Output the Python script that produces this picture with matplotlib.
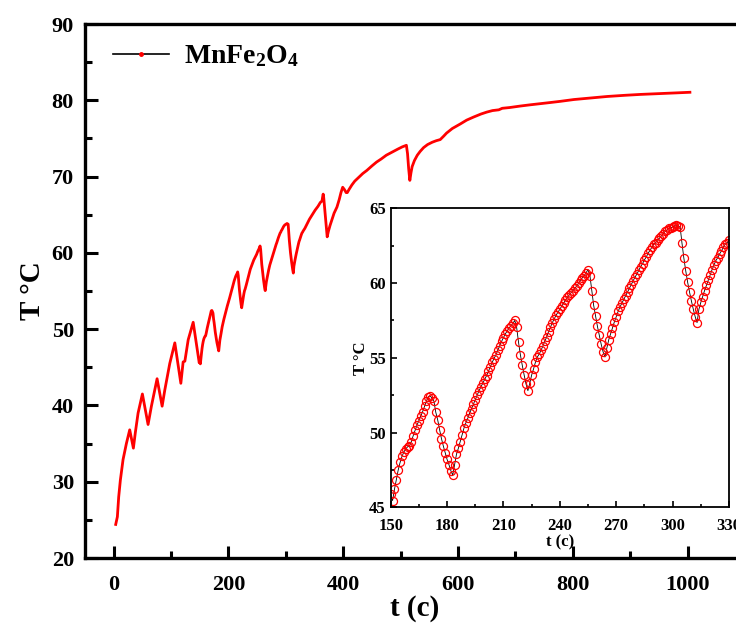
import numpy as np
import matplotlib
matplotlib.use("Agg")
import matplotlib.pyplot as plt
from matplotlib.lines import Line2D
from matplotlib.ticker import MultipleLocator

plt.rcParams['font.family'] = ['Liberation Serif', 'DejaVu Serif']
plt.rcParams['font.weight'] = 'bold'
plt.rcParams['mathtext.fontset'] = 'custom'
plt.rcParams['mathtext.rm'] = 'Liberation Serif:bold'
plt.rcParams['mathtext.it'] = 'Liberation Serif:bold'
plt.rcParams['mathtext.bf'] = 'Liberation Serif:bold'

# heating curve before the zoomed window (s, degC)
t_early = [3.5, 6.4, 8.7, 11.6, 16.3, 22.1, 27.9, 34.3, 37.8, 42.5, 50.0, 59.9,
           65.7, 75.6, 84.4, 89.0, 97.7, 106.5, 117.0, 121.0, 124.0, 129.8,
           138.5, 149.0]
T_early = [24.4, 25.4, 28.0, 30.2, 32.9, 35.0, 36.8, 34.4, 36.5, 39.0, 41.5, 37.5,
           39.9, 43.5, 39.9, 42.0, 45.5, 48.2, 42.9, 45.7, 45.8, 48.6,
           50.9, 45.6]

# zoomed window, one sample per second from 150 s to 330 s
t_zoom = np.arange(150, 331)
T_zoom = [45.9, 45.45, 46.2, 46.85, 47.5, 48.0, 48.4, 48.7, 48.9, 49.05,
          49.1, 49.4, 49.8, 50.15, 50.5, 50.8, 51.1, 51.4, 51.75, 52.1,
          52.4, 52.45, 52.3, 52.1, 51.35, 50.85, 50.2, 49.6, 49.1, 48.65,
          48.2, 47.85, 47.45, 47.15, 47.85, 48.55, 48.95, 49.4, 49.85, 50.3,
          50.65, 50.95, 51.3, 51.6, 51.9, 52.2, 52.5, 52.8, 53.05, 53.3,
          53.55, 53.8, 54.1, 54.4, 54.7, 54.95, 55.2, 55.5, 55.8, 56.1,
          56.35, 56.6, 56.8, 57.0, 57.15, 57.3, 57.5, 57.05, 56.05, 55.2,
          54.5, 53.85, 53.25, 52.8, 53.3, 53.85, 54.25, 54.7, 55.05, 55.25,
          55.5, 55.8, 56.1, 56.4, 56.75, 57.05, 57.35, 57.6, 57.85, 58.05,
          58.25, 58.45, 58.65, 58.85, 59.05, 59.2, 59.35, 59.5, 59.65, 59.8,
          60.0, 60.2, 60.35, 60.5, 60.7, 60.9, 60.5, 59.5, 58.5, 57.8,
          57.1, 56.5, 55.9, 55.4, 55.05, 55.65, 56.2, 56.6, 57.0, 57.4,
          57.75, 58.1, 58.4, 58.65, 58.9, 59.15, 59.4, 59.65, 59.9, 60.15,
          60.4, 60.6, 60.85, 61.1, 61.3, 61.55, 61.75, 62.0, 62.2, 62.4,
          62.6, 62.7, 62.9, 63.0, 63.15, 63.3, 63.45, 63.55, 63.65, 63.7,
          63.75, 63.8, 63.85, 63.8, 63.75, 62.65, 61.65, 60.8, 60.05, 59.4,
          58.8, 58.25, 57.75, 57.35, 58.25, 58.7, 59.1, 59.5, 59.85, 60.2,
          60.55, 60.9, 61.2, 61.5, 61.7, 61.95, 62.15, 62.4, 62.6, 62.7,
          62.85]

# after the zoomed window
t_late = [333, 337, 341, 346, 351, 356, 360, 363, 364, 365, 366, 368, 370, 372,
          374, 377, 380, 384, 389, 393, 396, 399, 402, 405, 407, 410, 415, 420,
          427, 434, 441, 450, 458, 466, 475, 485, 495, 503, 510, 512, 514, 516,
          518, 520, 524, 529, 534, 540, 547, 555, 562, 569, 575, 580, 590, 604,
          615, 627, 640, 650, 660, 671, 677, 690, 709, 725, 743, 760, 778, 802,
          830, 860, 890, 918, 950, 980, 1004]
T_late = [63.2, 63.8, 64.4, 65.0, 65.6, 66.1, 66.6, 66.8, 67.3, 67.7, 67.2, 65.5,
          63.8, 62.1, 62.8, 63.6, 64.3, 65.2, 66.0, 67.0, 67.9, 68.6, 68.3, 67.9,
          67.9, 68.3, 68.9, 69.4, 69.9, 70.4, 70.8, 71.4, 71.9, 72.3, 72.8, 73.2,
          73.6, 73.9, 74.1, 73.0, 71.0, 69.5, 70.5, 71.3, 72.1, 72.8, 73.3, 73.8,
          74.2, 74.5, 74.7, 74.85, 75.3, 75.7, 76.3, 76.9, 77.4, 77.8, 78.2,
          78.45, 78.65, 78.75, 78.95, 79.05, 79.25, 79.4, 79.55, 79.7, 79.86,
          80.1, 80.3, 80.5, 80.65, 80.77, 80.88, 80.97, 81.05]

t_all = np.concatenate([t_early, t_zoom, t_late])
T_all = np.concatenate([T_early, T_zoom, T_late])

fig = plt.figure(figsize=(7.36, 6.25), dpi=100)
ax = fig.add_axes([85 / 736, 67 / 625, 660 / 736, 534 / 625])

ax.plot(t_all, T_all, color='red', lw=2.0, zorder=3)
ax.set_xlim(-50, 1100)
ax.set_ylim(20, 90)
ax.xaxis.set_major_locator(MultipleLocator(200))
ax.xaxis.set_minor_locator(MultipleLocator(100))
ax.yaxis.set_major_locator(MultipleLocator(10))
ax.yaxis.set_minor_locator(MultipleLocator(5))
ax.tick_params(which='both', direction='in', width=2.2, labelsize=16)
ax.tick_params(which='major', length=9)
ax.tick_params(which='minor', length=5)
ax.tick_params(axis='x', pad=12)
ax.tick_params(axis='y', pad=8)
for s in ax.spines.values():
    s.set_linewidth(2.4)
ax.set_xlabel('t (c)', fontsize=21, fontweight='bold', labelpad=0)
ax.set_ylabel('T °C', fontsize=21, fontweight='bold', labelpad=4)

handle = Line2D([], [], color='black', lw=1.2, marker='o', ms=2.5,
                mfc='red', mec='red')
ax.legend([handle], ['MnFe$_2$O$_4$'], loc='upper left', frameon=False,
          fontsize=20, handlelength=2.0, handletextpad=0.55,
          bbox_to_anchor=(0.005, 1.01))

# inset
axi = fig.add_axes([390.7 / 736, 117.7 / 625, 338.3 / 736, 299 / 625])
axi.plot(t_zoom, T_zoom, color='black', lw=0.6, marker='o', ms=5.8,
         mfc='none', mec='red', mew=0.9)
axi.set_xlim(150, 330)
axi.set_ylim(45, 65)
axi.xaxis.set_major_locator(MultipleLocator(30))
axi.xaxis.set_minor_locator(MultipleLocator(15))
axi.yaxis.set_major_locator(MultipleLocator(5))
axi.yaxis.set_minor_locator(MultipleLocator(2.5))
axi.tick_params(which='both', direction='in', width=1.2, labelsize=12)
axi.tick_params(which='major', length=4.5)
axi.tick_params(which='minor', length=2.5)
axi.tick_params(axis='x', pad=8)
for s in axi.spines.values():
    s.set_linewidth(1.3)
axi.set_xlabel('t (c)', fontsize=12, fontweight='bold', labelpad=0)
axi.set_ylabel('T °C', fontsize=12, fontweight='bold', labelpad=0)

fig.savefig('out.png', dpi=100)
